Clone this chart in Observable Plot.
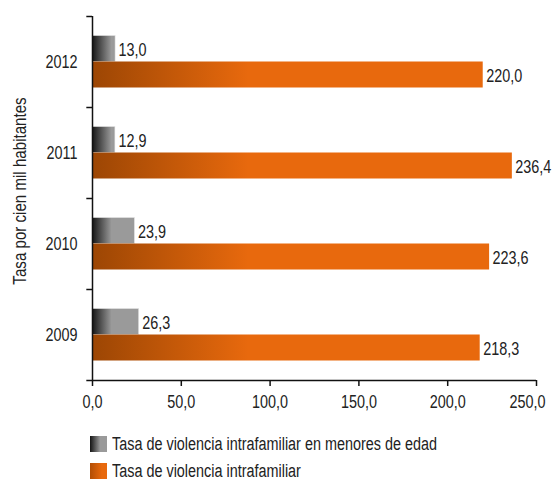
<!DOCTYPE html>
<html>
<head>
<meta charset="utf-8">
<script src="https://cdn.jsdelivr.net/npm/d3@7"></script>
<script src="https://cdn.jsdelivr.net/npm/@observablehq/plot@0.6"></script>
<style>
  body { margin: 0; background: #fff; font-family: "Liberation Sans", Arial, sans-serif; }
  #wrap { position: relative; width: 554px; height: 486px; }
  .leg { position: absolute; left: 90px; height: 16px; display: flex; align-items: center; font-size: 18px; color: #222; white-space: nowrap; }
  .sw { width: 17px; height: 16px; margin-right: 5px; flex: none; }
  .leg span { display: inline-block; transform: scaleX(0.8); transform-origin: left center; }
  svg text { font-family: "Liberation Sans", Arial, sans-serif; }
</style>
</head>
<body>
<div id="wrap"></div>
<script>
const years = ["2012", "2011", "2010", "2009"];
const series = ["Tasa de violencia intrafamiliar en menores de edad", "Tasa de violencia intrafamiliar"];
const menores = [13.0, 12.9, 23.9, 26.3];
const intrafamiliar = [220.0, 236.4, 223.6, 218.3];
const xTicks = [0, 50, 100, 150, 200, 250];

const data = [];
years.forEach((y, i) => {
  data.push({year: y, serie: series[0], value: menores[i]});
  data.push({year: y, serie: series[1], value: intrafamiliar[i]});
});
const fmt = v => v.toFixed(1).replace(".", ",");

const W = 554, H = 420, mL = 92, mR = 18, mT = 16, mB = 40;
const step = (H - mT - mB) / years.length;
const barH = 26;
const off = (step - 2 * barH) / 2;
const FS = 18, S = 0.8;

const chart = Plot.plot({
  width: W, height: H,
  marginLeft: mL, marginRight: mR, marginTop: mT, marginBottom: mB,
  style: {fontSize: FS + "px", color: "#222", background: "#fff", fontFamily: "Liberation Sans, Arial, sans-serif"},
  x: {domain: [0, 250], ticks: xTicks, tickFormat: fmt, label: null},
  y: {domain: years, padding: 0, label: null},
  marks: [
    Plot.barX(data.filter(d => d.serie === series[0]), {
      x: "value", y: "year", fill: "url(#gGray)",
      insetTop: off, insetBottom: step - off - barH, stroke: "#e4e4e4", strokeWidth: 0.6
    }),
    Plot.barX(data.filter(d => d.serie === series[1]), {
      x: "value", y: "year", fill: "url(#gOrange)",
      insetTop: off + barH, insetBottom: off
    }),
    Plot.text(data.filter(d => d.serie === series[0]), {
      x: "value", y: "year", text: d => fmt(d.value), textAnchor: "start",
      dx: 3, dy: -barH / 2 + 1, fontSize: FS, fill: "#222"
    }),
    Plot.text(data.filter(d => d.serie === series[1]), {
      x: "value", y: "year", text: d => fmt(d.value), textAnchor: "start",
      dx: 3, dy: barH / 2 + 1, fontSize: FS, fill: "#222"
    }),
    Plot.ruleX([0], {stroke: "#111", strokeWidth: 1.5}),
    Plot.ruleY(years, {y: d => d, dy: -step / 2, x1: -3.2, x2: 0, stroke: "#111", strokeWidth: 1.5}),
    Plot.ruleY(["2009"], {y: d => d, dy: step / 2, x1: -3.2, x2: 250, stroke: "#111", strokeWidth: 1.5}),
    Plot.axisX({ticks: xTicks, tickFormat: fmt, tickSize: 6, tickPadding: 9, fontSize: FS, label: null, stroke: "#111", strokeWidth: 1.5}),
    Plot.axisY({tickSize: 0, tickPadding: 15, fontSize: FS, label: null})
  ]
});

// gradients based on the x scale
const xs = chart.scale("x");
const svg = d3.select(chart);
const defs = svg.insert("defs", ":first-child");
const g1 = defs.append("linearGradient").attr("id", "gGray").attr("gradientUnits", "userSpaceOnUse")
  .attr("x1", xs.apply(0)).attr("x2", xs.apply(11)).attr("y1", 0).attr("y2", 0);
g1.append("stop").attr("offset", 0).attr("stop-color", "#141414");
g1.append("stop").attr("offset", 1).attr("stop-color", "#9a9a9a");
const g2 = defs.append("linearGradient").attr("id", "gOrange").attr("gradientUnits", "userSpaceOnUse")
  .attr("x1", xs.apply(0)).attr("x2", xs.apply(88)).attr("y1", 0).attr("y2", 0);
g2.append("stop").attr("offset", 0).attr("stop-color", "#9c4604");
g2.append("stop").attr("offset", 1).attr("stop-color", "#e8690d");

// y axis title
svg.append("text").attr("transform", `translate(21,${(mT + H - mB) / 2 - 7}) rotate(-90)`)
  .attr("text-anchor", "middle").attr("dominant-baseline", "middle")
  .attr("font-size", FS).attr("fill", "#222").attr("data-sx", 0.84).text("Tasa por cien mil habitantes");

// condensed look: scale every text horizontally around its anchor
svg.selectAll("text").each(function() {
  const xa = this.getAttribute("x");
  let x = 0;
  if (xa !== null && isFinite(+xa)) { x = +xa; this.removeAttribute("x"); }
  const sx = this.getAttribute("data-sx") || S;
  const t = this.getAttribute("transform") || "";
  this.setAttribute("transform", `${t} translate(${x},0) scale(${sx},1)`);
});
// keep last x tick label inside the frame
const xl = svg.selectAll('g[aria-label="x-axis tick label"] text').nodes();
if (xl.length) {
  const last = xl[xl.length - 1];
  last.setAttribute("transform", last.getAttribute("transform").replace(/scale\(/, "translate(-9,0) scale("));
}

const wrap = document.getElementById("wrap");
wrap.appendChild(chart);

const swatches = [
  "linear-gradient(to right, #141414 0%, #9a9a9a 60%, #9a9a9a 100%)",
  "linear-gradient(to right, #b24e05 0%, #e8690d 70%, #e8690d 100%)"
];
series.forEach((s, i) => {
  const row = document.createElement("div");
  row.className = "leg";
  row.style.top = (436 + i * 27) + "px";
  const sw = document.createElement("div");
  sw.className = "sw";
  sw.style.background = swatches[i];
  row.appendChild(sw);
  const t = document.createElement("span");
  t.textContent = s;
  row.appendChild(t);
  wrap.appendChild(row);
});
</script>
</body>
</html>
